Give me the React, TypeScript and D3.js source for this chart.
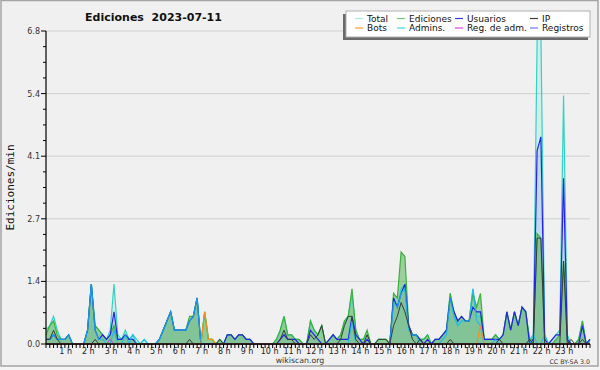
import React from 'react';
import * as d3 from 'd3';

// ---------- data (10-minute bins, edits per minute) ----------
const binsPerHour = 6;
const hours = [1, 2, 3, 4, 5, 6, 7, 8, 9, 10, 11, 12, 13, 14, 15, 16, 17, 18, 19, 20, 21, 22, 23];
const yMax = 6.8;
const yTickValues = [0, 1.36, 2.72, 4.08, 5.44, 6.8];
const yTickLabels = ['0.0', '1.4', '2.7', '4.1', '5.4', '6.8'];

const total = [
  0.3, 0.4, 0.6, 0.3, 0.1, 0.1, 0.2, 0, 0, 0,
  0, 0.3, 1.3, 0.4, 0.3, 0.2, 0.1, 0.3, 1.3, 0.2,
  0.1, 0.3, 0.1, 0.2, 0.1, 0, 0.1, 0, 0, 0,
  0.1, 0.3, 0.5, 0.7, 0.3, 0.3, 0.3, 0.3, 0.5, 0.6,
  1.0, 0, 0.7, 0.1, 0.1, 0, 0.1, 0, 0.2, 0.2,
  0.1, 0.2, 0.2, 0.1, 0.1, 0, 0, 0, 0, 0,
  0, 0.1, 0.3, 0.6, 0.2, 0.2, 0.1, 0.1, 0, 0,
  0.5, 0.3, 0.2, 0.4, 0, 0.1, 0.2, 0.1, 0.2, 0.5,
  0.6, 1.1, 0.3, 0.1, 0.1, 0.2, 0, 0, 0.1, 0.1,
  0.1, 0, 1.0, 0.8, 1.2, 1.3, 0.4, 0.2, 0.2, 0.1,
  0.1, 0.2, 0, 0.1, 0.1, 0.2, 0.3, 1.1, 0.6, 0.4,
  0.5, 0.5, 0.5, 1.2, 0.6, 0.6, 0.1, 0.1, 0.1, 0.2,
  0.1, 0.2, 0.7, 0.3, 0.7, 0.4, 0.8, 0.7, 0.1, 0.2,
  6.6, 6.8, 0.2, 0, 0.1, 0.2, 0.3, 5.4, 0.2, 0,
  0, 0.1, 0.5, 0, 0.1,
];

const ediciones = [
  0.2, 0.4, 0.5, 0.2, 0.1, 0.1, 0.2, 0, 0, 0,
  0, 0.3, 1.3, 0.4, 0.3, 0.2, 0.1, 0.2, 0.4, 0.1,
  0.1, 0.2, 0.1, 0.1, 0, 0, 0, 0, 0, 0,
  0.1, 0.3, 0.5, 0.7, 0.3, 0.3, 0.3, 0.3, 0.6, 0.6,
  1.0, 0, 0.7, 0.1, 0.1, 0, 0.1, 0, 0.2, 0.2,
  0.1, 0.2, 0.2, 0.1, 0.1, 0, 0, 0, 0, 0,
  0, 0.1, 0.3, 0.6, 0.2, 0.2, 0.1, 0.1, 0, 0,
  0.5, 0.3, 0.2, 0.4, 0, 0.1, 0.2, 0.1, 0.2, 0.5,
  0.6, 1.2, 0.3, 0.1, 0.1, 0.3, 0, 0, 0.1, 0.1,
  0.1, 0, 1.1, 1.0, 2.0, 1.9, 0.4, 0.2, 0.2, 0.1,
  0.1, 0.2, 0, 0.1, 0.1, 0.2, 0.3, 1.1, 0.7, 0.5,
  0.6, 0.5, 0.5, 1.1, 0.8, 1.1, 0.1, 0.1, 0.1, 0.2,
  0.1, 0.2, 0.7, 0.3, 0.7, 0.4, 0.8, 0.7, 0.1, 0.1,
  2.4, 2.3, 0.1, 0, 0, 0.1, 0.2, 1.8, 0.1, 0,
  0, 0.1, 0.5, 0, 0.1,
];

const usuarios = [
  0.1, 0.1, 0.2, 0.1, 0.1, 0.1, 0.2, 0, 0, 0,
  0, 0.3, 1.3, 0.3, 0.1, 0.2, 0.1, 0.2, 0.7, 0.1,
  0.1, 0.2, 0.1, 0.1, 0, 0, 0, 0, 0, 0,
  0.1, 0.3, 0.5, 0.7, 0.3, 0.3, 0.3, 0.3, 0.5, 0.6,
  1.0, 0, 0, 0, 0, 0, 0, 0, 0.2, 0.2,
  0.1, 0.2, 0.2, 0.1, 0.1, 0, 0, 0, 0, 0,
  0, 0, 0.1, 0.2, 0.1, 0.1, 0.1, 0, 0, 0,
  0.3, 0.2, 0.1, 0, 0, 0.1, 0.2, 0.1, 0.1, 0.1,
  0.1, 0.6, 0.2, 0.1, 0, 0.1, 0, 0, 0, 0,
  0, 0, 1.0, 0.8, 1.1, 1.3, 0.4, 0.2, 0.2, 0.1,
  0, 0.1, 0, 0.1, 0.1, 0.2, 0.3, 1.0, 0.7, 0.5,
  0.6, 0.5, 0.5, 0.8, 0.7, 0.7, 0.1, 0.1, 0.1, 0.1,
  0.1, 0.2, 0.7, 0.3, 0.7, 0.4, 0.8, 0.7, 0, 0.1,
  4.2, 4.5, 0.1, 0, 0.1, 0.2, 0.2, 3.6, 0.1, 0,
  0, 0, 0.4, 0, 0.1,
];

const ip = [
  0.1, 0.1, 0.3, 0.1, 0, 0, 0, 0, 0, 0,
  0, 0, 0, 0.1, 0, 0, 0, 0, 0, 0,
  0, 0, 0, 0, 0, 0, 0, 0, 0, 0,
  0, 0, 0, 0, 0, 0, 0, 0, 0.1, 0,
  0, 0, 0, 0, 0, 0, 0.1, 0, 0, 0,
  0, 0, 0, 0, 0, 0, 0, 0, 0, 0,
  0, 0, 0.1, 0.3, 0.1, 0.1, 0, 0, 0, 0,
  0.2, 0.1, 0.2, 0.4, 0, 0, 0, 0, 0.1, 0.4,
  0.6, 0.6, 0.1, 0, 0, 0.2, 0, 0, 0.1, 0.1,
  0.1, 0, 0.4, 0.6, 0.9, 0.7, 0.4, 0.1, 0, 0.1,
  0, 0, 0, 0, 0, 0, 0, 0.1, 0, 0,
  0, 0, 0, 0, 0, 0, 0, 0, 0, 0,
  0.1, 0, 0, 0, 0, 0, 0, 0, 0.1, 0,
  2.3, 2.3, 0, 0, 0, 0, 0, 1.8, 0, 0.1,
  0, 0, 0.1, 0, 0,
];

const bots = [
  0, 0, 0, 0, 0, 0, 0, 0, 0, 0,
  0, 0, 0, 0, 0, 0, 0, 0, 0, 0,
  0, 0, 0, 0, 0, 0, 0, 0, 0, 0,
  0, 0, 0, 0, 0, 0, 0, 0, 0, 0,
  0, 0, 0.7, 0.1, 0.1, 0, 0, 0, 0, 0,
  0, 0, 0, 0, 0, 0, 0, 0, 0, 0,
  0, 0, 0, 0, 0, 0, 0, 0, 0, 0,
  0, 0, 0, 0, 0, 0, 0, 0, 0, 0,
  0, 0, 0, 0, 0, 0, 0, 0, 0, 0,
  0, 0, 0, 0, 0, 0, 0, 0, 0, 0,
  0, 0, 0, 0, 0, 0, 0, 0, 0, 0,
  0, 0, 0, 0, 0, 0.4, 0, 0, 0, 0,
  0, 0, 0, 0, 0, 0, 0, 0, 0, 0,
  0, 0, 0, 0, 0, 0, 0, 0, 0, 0,
  0, 0, 0, 0, 0,
];

const admins = [
  0.1, 0.1, 0.2, 0.1, 0.1, 0.1, 0.2, 0, 0, 0,
  0, 0.3, 1.3, 0.3, 0.1, 0.1, 0, 0, 0.3, 0,
  0, 0.2, 0, 0.2, 0, 0, 0.1, 0, 0, 0,
  0.1, 0.3, 0.5, 0.7, 0.3, 0.3, 0.3, 0.3, 0.5, 0.6,
  1.0, 0, 0, 0, 0, 0, 0, 0, 0, 0,
  0, 0, 0, 0, 0, 0, 0, 0, 0, 0,
  0, 0, 0, 0, 0, 0, 0, 0, 0, 0,
  0, 0, 0, 0, 0, 0, 0, 0, 0, 0,
  0, 0.5, 0, 0, 0, 0, 0, 0, 0, 0,
  0, 0, 0.9, 0.8, 1.1, 1.2, 0.3, 0.2, 0.2, 0,
  0, 0, 0, 0, 0, 0.1, 0.2, 1.0, 0.6, 0.4,
  0.5, 0.5, 0.5, 1.2, 0.5, 0.4, 0, 0, 0, 0.1,
  0, 0, 0, 0, 0, 0, 0, 0, 0, 0.2,
  0, 0, 0.2, 0, 0, 0, 0, 0, 0, 0,
  0, 0, 0, 0, 0,
];

const regAdm = [
  0, 0, 0, 0, 0, 0, 0, 0, 0, 0,
  0, 0, 0, 0, 0, 0, 0, 0.1, 0, 0,
  0, 0, 0, 0, 0, 0, 0, 0, 0, 0,
  0, 0, 0, 0, 0, 0, 0, 0, 0, 0,
  0, 0, 0, 0, 0, 0, 0, 0, 0, 0,
  0, 0, 0, 0, 0, 0, 0, 0, 0, 0,
  0, 0, 0, 0, 0, 0, 0, 0, 0, 0,
  0, 0, 0, 0, 0, 0, 0, 0, 0, 0,
  0, 0, 0, 0, 0, 0, 0, 0, 0, 0,
  0, 0, 0, 0, 0, 0, 0, 0, 0, 0,
  0, 0, 0, 0, 0, 0, 0, 0, 0, 0,
  0, 0, 0, 0, 0, 0, 0, 0, 0, 0,
  0, 0, 0, 0, 0, 0, 0, 0, 0, 0,
  0, 0, 0, 0, 0, 0, 0, 0, 0, 0,
  0, 0, 0, 0, 0,
];

const registros = [
  0, 0, 0, 0, 0, 0, 0, 0, 0, 0,
  0, 0, 0, 0, 0, 0, 0, 0, 0, 0,
  0, 0, 0, 0, 0, 0, 0, 0, 0, 0,
  0, 0, 0, 0, 0, 0, 0, 0, 0, 0,
  0, 0, 0, 0, 0, 0, 0, 0, 0, 0,
  0, 0, 0, 0, 0, 0, 0, 0, 0, 0,
  0, 0, 0, 0, 0, 0, 0, 0, 0, 0,
  0, 0, 0, 0, 0, 0, 0, 0, 0, 0,
  0, 0, 0, 0, 0, 0, 0, 0, 0, 0,
  0, 0, 0, 0, 0, 0, 0, 0, 0, 0,
  0, 0, 0, 0, 0, 0, 0, 0, 0, 0,
  0, 0, 0, 0, 0, 0, 0, 0, 0, 0,
  0, 0, 0, 0, 0, 0, 0, 0, 0, 0,
  0, 0, 0, 0, 0, 0, 0, 0, 0, 0,
  0, 0, 0, 0, 0,
];

// legend: column-major order (4 columns x 2 rows)
const legendNames = ['Total', 'Bots', 'Ediciones', 'Admins.', 'Usuarios', 'Reg. de adm.', 'IP', 'Registros'];
const legendColors = ['#a6ece4', '#f8a030', '#74cc74', '#40d8ec', '#3838f0', '#e040f0', '#404040', '#7474f8'];

// ---------- layout ----------
const L = { left: 46, right: 590, top: 31, bottom: 344 };
const legendBox = { x: 346, y: 11, w: 244, h: 26 };
const legendCols = [355, 397, 455, 530];
const legendRows = [18.5, 28];
const FONT = '"DejaVu Sans", sans-serif';

export default function App() {
  const n = total.length;
  const idx = d3.range(n);
  const x = d3.scaleLinear().domain([0, n - 1]).range([L.left, L.right]);
  const y = d3.scaleLinear().domain([0, yMax]).range([L.bottom, L.top]);

  const lineOf = (vals: number[]) =>
    d3.line<number>().x((i) => x(i)).y((i) => y(vals[i]))(idx) || '';
  const areaOf = (vals: number[]) =>
    d3.area<number>().x((i) => x(i)).y0(y(0)).y1((i) => y(vals[i]))(idx) || '';

  const minorTicks = d3.range(0, 21).map((k) => (yMax / 20) * k).filter((_, k) => k % 4 !== 0);

  return (
    <svg
      width={600}
      height={370}
      style={{ position: 'fixed', left: 0, top: 0, display: 'block', background: '#f4f4f4' }}
    >
      <rect x={1} y={0.5} width={597} height={365.5} fill="#f0f0f1" stroke="#a4a4a4" strokeWidth={1.5} />

      {/* grid */}
      {yTickValues.slice(1).map((v) => (
        <line key={'g' + v} x1={L.left} x2={L.right} y1={y(v)} y2={y(v)} stroke="#cfcfcf" strokeWidth={1} />
      ))}

      {/* fills */}
      <path d={areaOf(total)} fill="#40e0d0" fillOpacity={0.16} />
      <path d={areaOf(usuarios)} fill="#5060f0" fillOpacity={0.14} />
      <path d={areaOf(ediciones)} fill="#46ae46" fillOpacity={0.5} />

      {/* lines */}
      <path d={lineOf(total)} fill="none" stroke="#34d2c4" strokeWidth={1.2} />
      <path d={lineOf(ediciones)} fill="none" stroke="#3cb03c" strokeWidth={1.2} />
      <path d={lineOf(usuarios)} fill="none" stroke="#2424e6" strokeWidth={1.2} />
      <path d={lineOf(admins)} fill="none" stroke="#18b8ee" strokeWidth={1.2} strokeOpacity={0.8} />
      <path d={lineOf(ip)} fill="none" stroke="#3a3a3a" strokeWidth={1} />
      <path d={lineOf(registros)} fill="none" stroke="#7474f8" strokeWidth={1} />
      <path d={lineOf(regAdm)} fill="none" stroke="#c040e0" strokeWidth={1} />
      <path d={lineOf(bots)} fill="none" stroke="#f09020" strokeWidth={1.2} />

      {/* y axis */}
      <line x1={L.left} x2={L.left} y1={L.top} y2={L.bottom} stroke="#000" strokeWidth={1.2} />
      {yTickValues.map((v, i) => (
        <g key={'yt' + i}>
          <line x1={L.left - 5} x2={L.left} y1={y(v)} y2={y(v)} stroke="#000" strokeWidth={1} />
          <text x={L.left - 6} y={y(v) + 3} textAnchor="end" fontFamily={FONT} fontSize={8} fill="#333">
            {yTickLabels[i]}
          </text>
        </g>
      ))}
      {minorTicks.map((v) => (
        <line key={'ym' + v} x1={L.left - 3} x2={L.left} y1={y(v)} y2={y(v)} stroke="#000" strokeWidth={1} />
      ))}
      <text
        transform={`translate(13.5, ${(L.top + L.bottom) / 2}) rotate(-90)`}
        textAnchor="middle"
        fontFamily='"DejaVu Sans Mono", monospace'
        fontSize={11}
        fill="#111"
      >
        Ediciones/min
      </text>

      {/* x axis */}
      <line x1={L.left} x2={L.right} y1={L.bottom} y2={L.bottom} stroke="#000" strokeWidth={1.5} />
      {idx.map((i) => (
        <line key={'xt' + i} x1={x(i)} x2={x(i)} y1={L.bottom} y2={L.bottom + 4} stroke="#000" strokeWidth={1} />
      ))}
      {hours.map((h) => (
        <text key={'xl' + h} x={x(h * binsPerHour) - 3} y={353.5} textAnchor="middle" fontFamily={FONT} fontSize={8} fill="#222">
          {`${h} h`}
        </text>
      ))}

      {/* title */}
      <text x={153.5} y={21} textAnchor="middle" fontFamily={FONT} fontWeight="bold" fontSize={11} fill="#111" style={{ whiteSpace: 'pre' }}>
        {'Ediciones  2023-07-11'}
      </text>

      {/* legend */}
      <rect x={legendBox.x - 3} y={legendBox.y + 3} width={legendBox.w + 1} height={legendBox.h} fill="#6a6a6a" />
      <rect x={legendBox.x} y={legendBox.y} width={legendBox.w} height={legendBox.h} fill="#ffffff" stroke="#b0b0b0" strokeWidth={1} />
      {legendNames.map((name, k) => {
        const col = Math.floor(k / 2);
        const row = k % 2;
        const lx = legendCols[col];
        const ly = legendRows[row];
        return (
          <g key={'lg' + k}>
            <line x1={lx} x2={lx + 8} y1={ly} y2={ly} stroke={legendColors[k]} strokeWidth={1.2} />
            <text x={lx + 12} y={ly + 3.4} fontFamily={FONT} fontSize={9} fill="#111">
              {name}
            </text>
          </g>
        );
      })}

      {/* footer */}
      <text x={300} y={363} textAnchor="middle" fontFamily={FONT} fontSize={7.8} fill="#333">
        wikiscan.org
      </text>
      <text x={590} y={364} textAnchor="end" fontFamily={FONT} fontSize={6.3} fill="#333">
        CC BY-SA 3.0
      </text>
    </svg>
  );
}
